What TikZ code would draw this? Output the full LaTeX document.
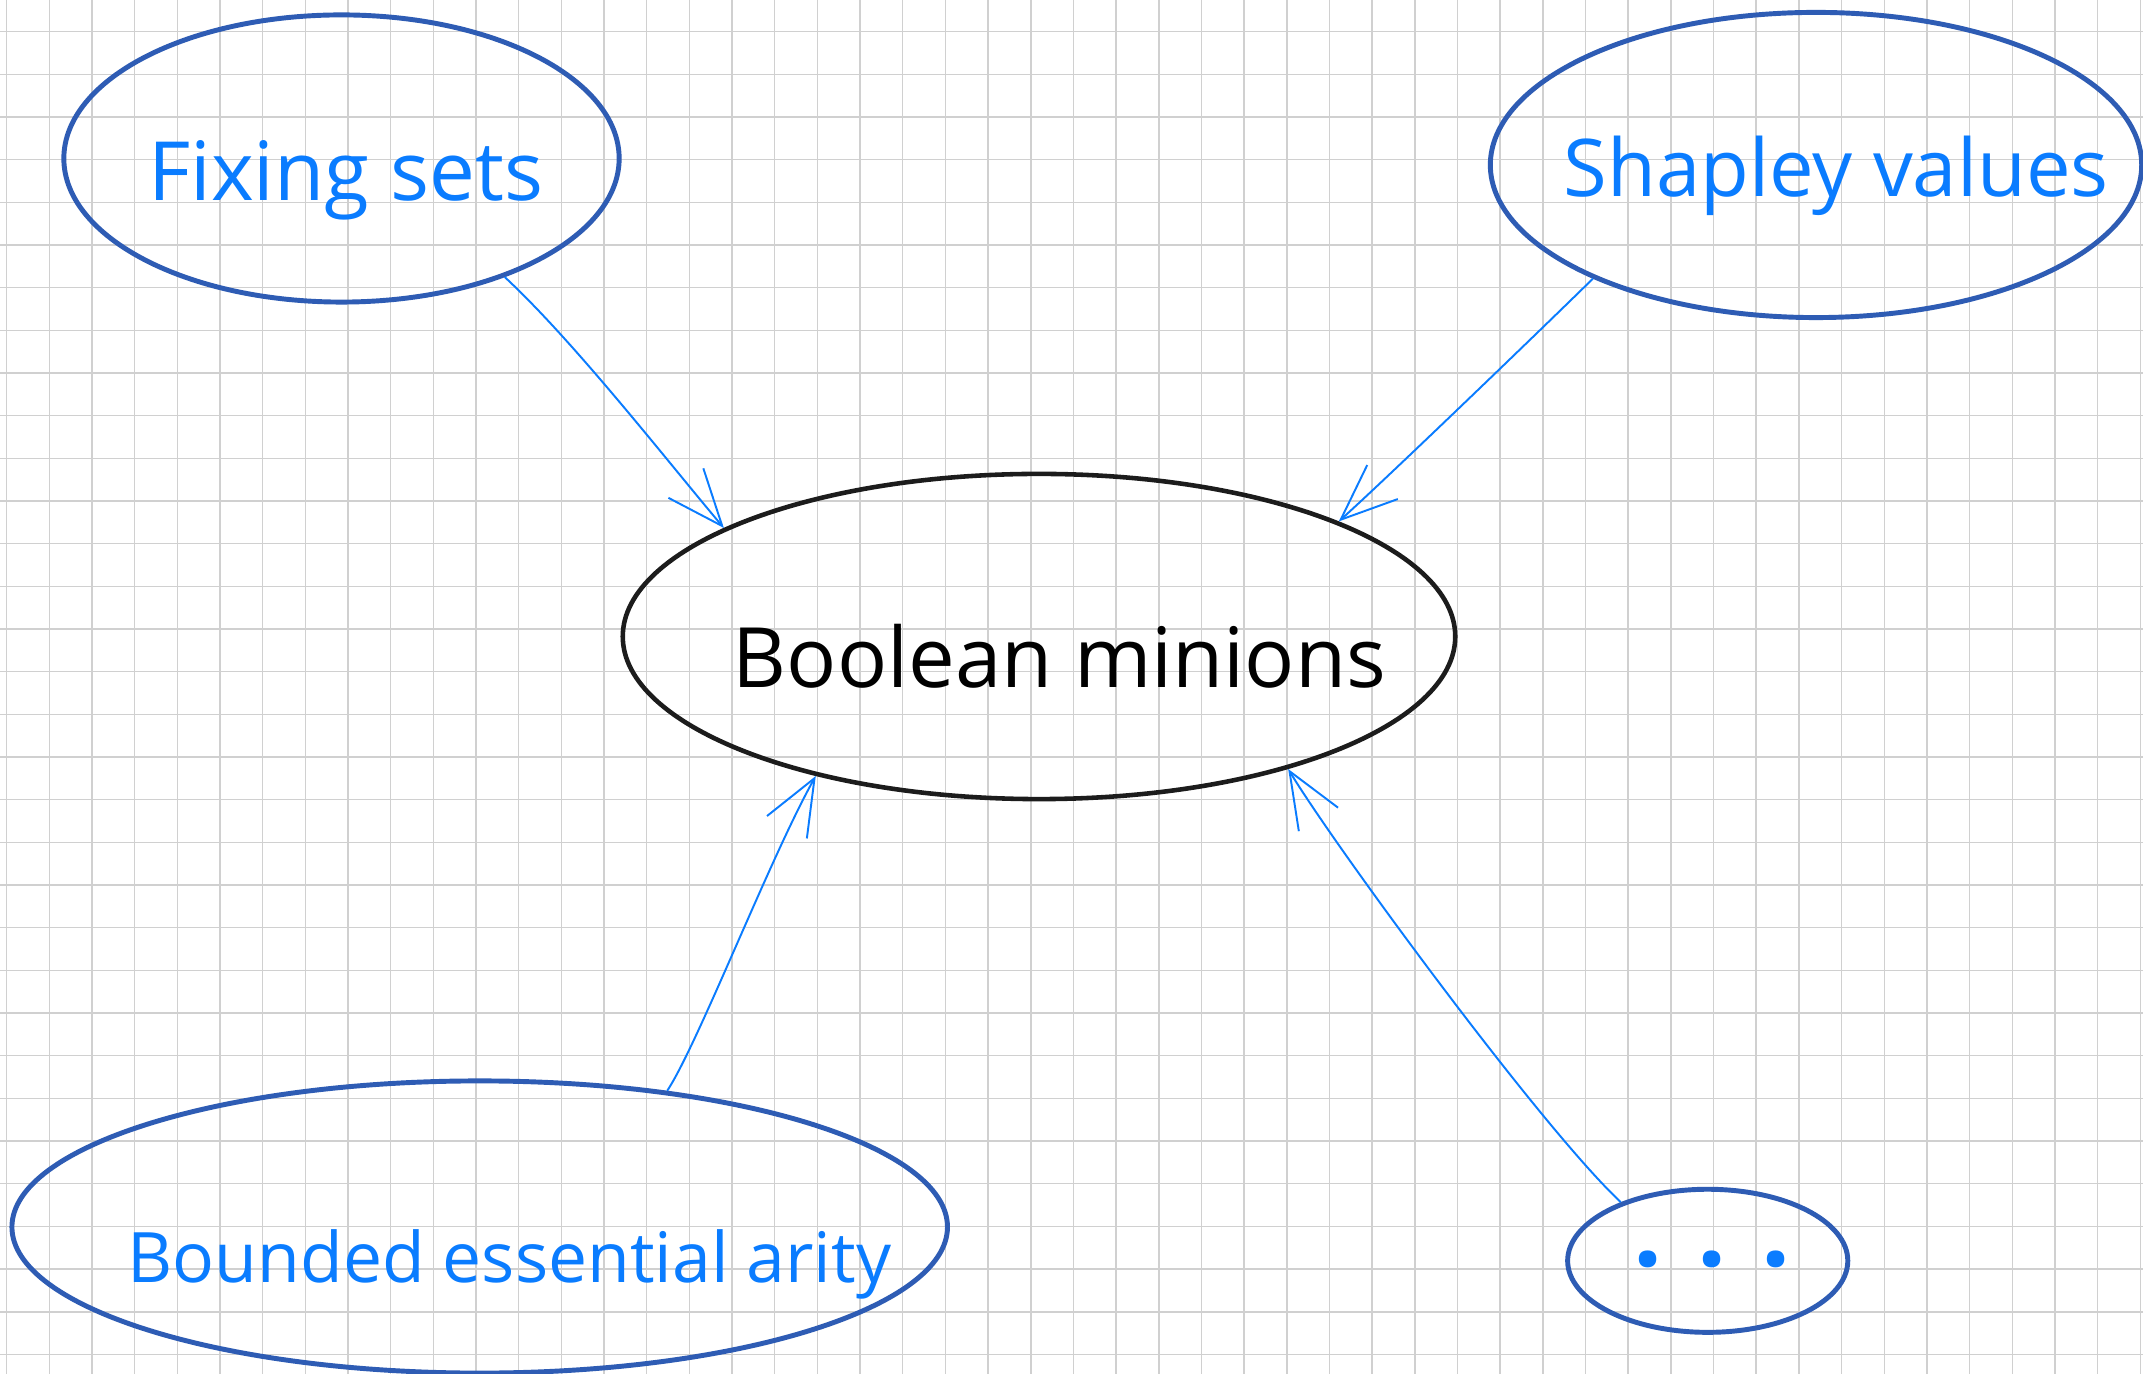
\documentclass[tikz,border=0pt]{standalone}
\usepackage{fontspec}
\setmainfont{Open Sans}
\usetikzlibrary{shapes.geometric,arrows.meta}
\definecolor{gridgray}{RGB}{208,208,208}
\definecolor{ringblue}{RGB}{46,92,180}
\definecolor{inkblue}{RGB}{10,124,255}
\definecolor{inkblack}{RGB}{28,28,28}
\begin{document}
\begin{tikzpicture}[x=0.01cm,y=-0.01cm,
  ring/.style={ellipse,draw=ringblue,line width=1.4pt,inner sep=0pt},
  mainring/.style={ellipse,draw=inkblack,line width=1.3pt,inner sep=0pt},
  word/.style={text=inkblue,inner sep=0pt,anchor=base west},
  link/.style={draw=inkblue,line width=0.55pt,-{Straight Barb[length=16pt,width=13pt]}},
  gridline/.style={draw=gridgray,line width=0.4pt}
]
\fill[white] (0,0) rectangle (2143,1374);
\useasboundingbox (0,0) rectangle (2143,1374);
\foreach \i in {0,...,50} { \draw[gridline] ({6.7+42.67*\i},0) -- ({6.7+42.67*\i},1374); }
\foreach \j in {0,...,31} { \draw[gridline] (0,{31.7+42.67*\j}) -- (2143,{31.7+42.67*\j}); }

% ellipses
\node[ring,minimum width=5.55cm,minimum height=2.87cm] (fix) at (341.5,158.5) {};
\node[ring,minimum width=6.51cm,minimum height=3.05cm] (shap) at (1816,165) {};
\node[mainring,minimum width=8.32cm,minimum height=3.25cm] (bool) at (1039,636.5) {};
\node[ring,minimum width=9.35cm,minimum height=2.92cm] (bound) at (479.7,1227) {};
\node[ring,minimum width=2.80cm,minimum height=1.43cm] (dots) at (1707.7,1260.8) {};

% texts
\node[word] (fixt) at (147.6,201) {\resizebox{3.95cm}{!}{Fixing sets}};
\node[word] (shapt) at (1562.7,197) {\resizebox{5.45cm}{!}{Shapley values}};
\node[word,text=black] (boolt) at (732,688) {\resizebox{6.53cm}{!}{Boolean minions}};
\node[word] (boundt) at (127,1282) {\resizebox{7.63cm}{!}{Bounded essential arity}};
\node[text=inkblue,inner sep=0pt] (dotst) at (1712,1259) {\fontsize{29}{30}\selectfont\bfseries . . .};

% connectors
\draw[link] (fix.-36) .. controls +(70,65) and +(-55,-65) .. (bool.161.3);
\draw[link] (shap.207.5) .. controls +(-50,49) and +(50,-45) .. (bool.21.9);
\draw[link] (bound.36.3) .. controls +(30,-45) and +(-45,80) .. (bool.212.7);
\draw[link] (dots.146.9) .. controls +(-80,-75) and +(45,75) .. (bool.-28.3);
\end{tikzpicture}
\end{document}
